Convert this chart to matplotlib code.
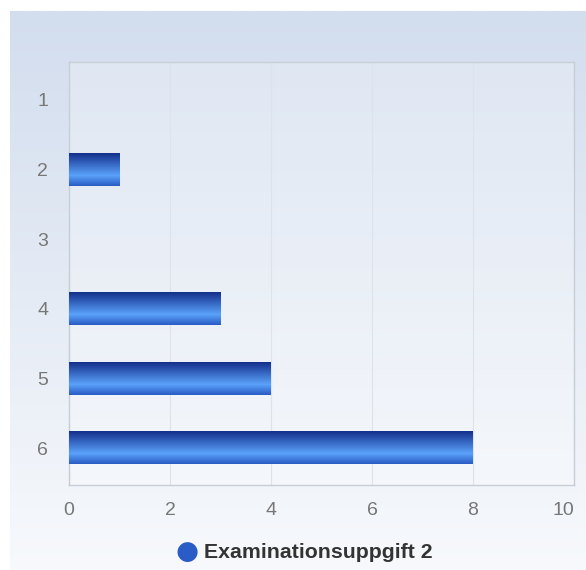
import matplotlib
matplotlib.use("Agg")
import matplotlib.pyplot as plt
import numpy as np
from matplotlib.colors import LinearSegmentedColormap

# Data
categories = ["1", "2", "3", "4", "5", "6"]
values = [0, 1, 0, 3, 4, 8]
series_name = "Examinationsuppgift 2"
x_ticks = [0, 2, 4, 6, 8, 10]

plt.rcParams['font.family'] = ['Liberation Sans', 'DejaVu Sans']

fig = plt.figure(figsize=(5.86, 5.70), dpi=100)
fig.patch.set_facecolor("white")

# Background gradient panel
bg = fig.add_axes([10 / 586, 0, 1 - 10 / 586, 1 - 11 / 570])
bg_cmap = LinearSegmentedColormap.from_list("bg", ["#f7f9fc", "#d2ddee"])
bg.imshow(np.linspace(0, 1, 256).reshape(-1, 1), aspect="auto", cmap=bg_cmap,
          origin="lower", extent=[0, 1, 0, 1])
bg.set_axis_off()

# Plot area
ax = fig.add_axes([69 / 586, 1 - 485 / 570, (574 - 69) / 586, (485 - 62) / 570])
ax.set_facecolor((1, 1, 1, 0.25))

# top of bar = 0 (y axis inverted), dark navy -> light blue -> mid blue
bar_cmap = LinearSegmentedColormap.from_list(
    "bar", [(0.0, "#14308c"), (0.68, "#5aa2fb"), (1.0, "#2a5cc4")])
grad = np.linspace(0, 1, 64).reshape(-1, 1)

bar_h = 0.47
y_pos = np.arange(len(categories))
bars = ax.barh(y_pos, values, height=bar_h, color="none", edgecolor="none")
for bar in bars:
    w = bar.get_width()
    if w <= 0:
        continue
    y0 = bar.get_y()
    ax.imshow(grad, aspect="auto", cmap=bar_cmap, origin="lower",
              extent=[0, w, y0, y0 + bar_h], zorder=3)

ax.set_xlim(0, 10)
ax.set_ylim(len(categories) - 0.5 + 0.03, -0.5 - 0.04)
ax.set_xticks(x_ticks)
ax.set_yticks(y_pos)
ax.set_yticklabels(categories)
ax.tick_params(axis="both", length=0, labelsize=14, labelcolor="#777777")
ax.tick_params(axis="y", pad=15)
ax.tick_params(axis="x", pad=12)
# last x label sits flush with the plot's right edge
ax.get_xticklabels()[-1].set_horizontalalignment("right")
ax.xaxis.grid(True, color="#dde3ea", linewidth=0.8)
ax.set_axisbelow(True)
for s in ax.spines.values():
    s.set_color("#c8ced6")
    s.set_linewidth(1)

# Legend
fig.text(187 / 586, 1 - 552 / 570, "\u25CF", color="#2a5cc8", fontsize=19,
         ha="center", va="center", family="DejaVu Sans")
fig.text(204 / 586, 1 - 553 / 570, series_name, color="#333333",
         fontsize=15.3, fontweight="bold", ha="left", va="center")

fig.savefig("out.png", dpi=100)
